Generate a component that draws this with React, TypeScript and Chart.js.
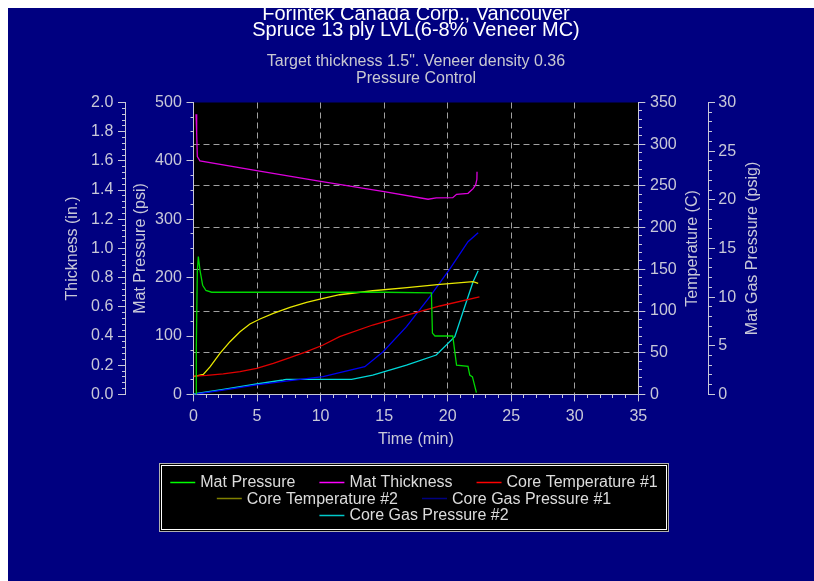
import React, { useEffect, useRef } from 'react';
import { Chart, registerables } from 'chart.js';

Chart.register(...registerables);

const FONT = "'Liberation Sans', Arial, Helvetica, sans-serif";

// ---------- text ----------
const titleLines = ['Forintek Canada Corp., Vancouver', 'Spruce 13 ply LVL(6-8% Veneer MC)'];
const subtitleLines = ['Target thickness 1.5". Veneer density 0.36', 'Pressure Control'];
const xTitle = 'Time (min)';
const thicknessTitle = 'Thickness (in.)';
const pressureTitle = 'Mat Pressure (psi)';
const temperatureTitle = 'Temperature (C)';
const gasTitle = 'Mat Gas Pressure (psig)';

// ---------- series labels / colours ----------
const seriesLabels = [
  'Mat Pressure',
  'Mat Thickness',
  'Core Temperature #1',
  'Core Temperature #2',
  'Core Gas Pressure #1',
  'Core Gas Pressure #2',
];
const lineColors = ['#00d800', '#dd00dd', '#e00000', '#e8e800', '#0000f0', '#00d8d8'];
const legendColors = ['#00ff00', '#ff00ff', '#ff0000', '#808000', '#000080', '#00c8c8'];

// ---------- axis ranges ----------
const timeRange = [0, 35];
const timeSteps = [5, 1]; // major, minor
const thicknessRange = [0, 2];
const thicknessSteps = [0.2, 0.04];
const pressureRange = [0, 500];
const pressureSteps = [100, 25];
const temperatureRange = [0, 350];
const temperatureSteps = [50, 10];
const gasRange = [0, 30];
const gasSteps = [5, 1];

// ---------- data (time in min) ----------
const matPressureTime = [0.2, 0.22, 0.3, 0.38, 0.51, 0.72, 0.98, 1.43, 5, 10, 15, 18.72, 18.8, 19.0, 20.4, 20.7, 21.6, 21.74, 21.95, 22.26];
const matPressureVal = [0, 80, 210, 236, 213, 187, 178, 175, 175, 175, 175, 174, 105, 100, 100, 50, 48, 33, 30, 3];

const matThicknessTime = [0.2, 0.25, 0.3, 0.51, 4.97, 10.0, 15.0, 18.46, 19.1, 20.4, 20.7, 21.6, 22.0, 22.2, 22.3, 22.31];
const matThicknessVal = [1.92, 1.79, 1.63, 1.6, 1.533, 1.46, 1.389, 1.337, 1.346, 1.348, 1.371, 1.378, 1.41, 1.435, 1.474, 1.526];

const coreTemp1Time = [0, 1.04, 2.34, 3.66, 4.97, 6.28, 7.59, 8.9, 10.2, 11.5, 14.1, 16.8, 19.4, 22.5];
const coreTemp1Val = [22, 22.9, 24.5, 27.2, 31.3, 37.3, 44, 51.2, 59.2, 69.2, 83.2, 95.2, 106, 117];

const coreTemp2Time = [0, 0.77, 1.3, 2.08, 2.87, 3.66, 4.44, 5.23, 6.28, 7.59, 8.9, 10.2, 11.5, 14.1, 16.8, 19.4, 22.0, 22.4];
const coreTemp2Val = [21.3, 24, 33, 49.3, 63.2, 75.2, 84.4, 90.4, 97.2, 104.4, 110.4, 115.2, 119.5, 124.3, 128, 132, 135.1, 133.2];

const coreGas1Time = [0, 2.34, 4.97, 7.59, 10.2, 11.5, 13.48, 14.92, 16.76, 18.6, 20.2, 21.6, 22.4];
const coreGas1Val = [0, 0.45, 0.97, 1.41, 1.82, 2.23, 2.85, 4.39, 6.96, 10.04, 12.96, 15.7, 16.62];

const coreGas2Time = [0, 2.34, 4.97, 7.06, 7.3, 11.5, 12.44, 14.1, 16.76, 19.1, 20.56, 21.34, 22.0, 22.4];
const coreGas2Val = [0.04, 0.52, 1.07, 1.48, 1.55, 1.55, 1.55, 1.99, 3.02, 4.05, 5.93, 9.01, 11.58, 12.71];

const seriesTimes = [matPressureTime, matThicknessTime, coreTemp1Time, coreTemp2Time, coreGas1Time, coreGas2Time];
const seriesValues = [matPressureVal, matThicknessVal, coreTemp1Val, coreTemp2Val, coreGas1Val, coreGas2Val];
const seriesAxes = ['yP', 'yTh', 'yT', 'yT', 'yG', 'yG'];

// legend rows (indices into seriesLabels)
const legendRows = [[0, 1, 2], [3, 4], [5]];

// ---------- styling ----------
const AX = '#c8c8d8';
const GRID = '#a0a0a0';
const NAVY = '#000080';
const TICK_SIZE = 16;

function isMult(v: number, s: number) {
  return Number.isFinite(v) && Math.abs(v / s - Math.round(v / s)) < 1e-6;
}
function tickVal(c: any): number {
  return c && c.tick ? c.tick.value : NaN;
}

function gridOpts(major: number, outerFirst: boolean, onChart: boolean, range: number[]) {
  return {
    display: true,
    drawOnChartArea: onChart,
    color: (c: any) => {
      const v = tickVal(c);
      return onChart && isMult(v, major) && v > range[0] && v < range[1] ? GRID : 'transparent';
    },
    lineWidth: 1,
    tickColor: AX,
    tickWidth: 1,
    tickLength: 7,
    tickBorderDash: (c: any) => (isMult(tickVal(c), major) ? [] : outerFirst ? [0, 4, 3, 100] : [3, 100]),
  };
}

function tickOpts(steps: number[], fmt: (v: number) => string, padding: number) {
  return {
    stepSize: steps[1],
    autoSkip: false,
    maxTicksLimit: 1000,
    maxRotation: 0,
    minRotation: 0,
    color: AX,
    padding,
    font: { family: FONT, size: TICK_SIZE },
    callback: (v: any) => (isMult(Number(v), steps[0]) ? fmt(Number(v)) : ''),
  };
}

const bgPlugin = {
  id: 'bgPlugin',
  beforeDraw(chart: any) {
    const { ctx, chartArea } = chart;
    ctx.save();
    ctx.fillStyle = NAVY;
    ctx.fillRect(0, 0, chart.width, chart.height);
    ctx.fillStyle = '#000000';
    ctx.fillRect(chartArea.left, chartArea.top, chartArea.right - chartArea.left, chartArea.bottom - chartArea.top);
    ctx.restore();
  },
};

const extrasPlugin = {
  id: 'extrasPlugin',
  afterDraw(chart: any) {
    const { ctx, chartArea, scales } = chart;
    const midY = (chartArea.top + chartArea.bottom) / 2;
    // right-hand axis titles (reading upwards)
    ctx.save();
    ctx.fillStyle = AX;
    ctx.font = `16px ${FONT}`;
    ctx.textAlign = 'center';
    ctx.textBaseline = 'middle';
    const drawV = (text: string, x: number) => {
      ctx.save();
      ctx.translate(x, midY);
      ctx.rotate(-Math.PI / 2);
      ctx.fillText(text, 0, 0);
      ctx.restore();
    };
    drawV(temperatureTitle, scales.yT.left + 54.5);
    drawV(gasTitle, scales.yG.left + 44.5);
    ctx.restore();

    // legend box
    const L = 151, T = 455, R = 661, B = 524;
    ctx.save();
    ctx.fillStyle = '#000000';
    ctx.fillRect(L, T, R - L, B - T);
    ctx.lineWidth = 1;
    ctx.strokeStyle = '#b0b0b0';
    ctx.strokeRect(L + 0.5, T + 0.5, R - L - 1, B - T - 1);
    ctx.strokeStyle = '#ffffff';
    ctx.strokeRect(L + 2.5, T + 2.5, R - L - 5, B - T - 5);

    ctx.font = `16px ${FONT}`;
    ctx.textBaseline = 'middle';
    ctx.textAlign = 'left';
    const lineLen = 25, gapLT = 5, gapItem = 24;
    const cx = (L + R) / 2;
    const rowY = [473.7, 490.2, 507];
    legendRows.forEach((row, r) => {
      const widths = row.map((i) => lineLen + gapLT + ctx.measureText(seriesLabels[i]).width);
      const total = widths.reduce((a, b) => a + b, 0) + gapItem * (row.length - 1);
      let x = cx - total / 2;
      row.forEach((i, k) => {
        const y = rowY[r];
        ctx.strokeStyle = legendColors[i];
        ctx.lineWidth = 1.5;
        ctx.beginPath();
        ctx.moveTo(x, Math.round(y) + 0.5);
        ctx.lineTo(x + lineLen, Math.round(y) + 0.5);
        ctx.stroke();
        ctx.fillStyle = '#dcdcdc';
        ctx.fillText(seriesLabels[i], x + lineLen + gapLT, y + 1);
        x += widths[k] + gapItem;
      });
    });
    ctx.restore();
  },
};

export default function App() {
  const ref = useRef<HTMLCanvasElement>(null);

  useEffect(() => {
    document.documentElement.style.overflow = 'hidden';
    Chart.defaults.font.family = FONT;

    const datasets = seriesLabels.map((label, i) => ({
      label,
      data: seriesTimes[i].map((t, j) => ({ x: t, y: seriesValues[i][j] })),
      yAxisID: seriesAxes[i],
      xAxisID: 'x',
      borderColor: lineColors[i],
      backgroundColor: lineColors[i],
      borderWidth: 1.3,
      pointRadius: 0,
      tension: 0,
      fill: false,
    }));

    const chart = new Chart(ref.current as HTMLCanvasElement, {
      type: 'line',
      data: { datasets },
      plugins: [bgPlugin, extrasPlugin],
      options: {
        responsive: false,
        animation: false,
        devicePixelRatio: 1,
        layout: { padding: { left: 10, right: 0, top: 0, bottom: 126.6 } },
        plugins: {
          legend: { display: false },
          tooltip: { enabled: false },
          title: {
            display: true,
            text: titleLines,
            color: '#ffffff',
            font: { family: FONT, size: 20, weight: 'normal', lineHeight: 0.785 },
            padding: { top: -1.55, bottom: 0 },
          },
          subtitle: {
            display: true,
            text: subtitleLines,
            color: '#c8c8d0',
            font: { family: FONT, size: 16, weight: 'normal', lineHeight: 1.0375 },
            padding: { top: 15.55, bottom: 15.9 },
          },
        },
        scales: {
          x: {
            type: 'linear',
            position: 'bottom',
            min: timeRange[0],
            max: timeRange[1],
            ticks: tickOpts(timeSteps, (v) => String(v), 5.2),
            grid: gridOpts(timeSteps[0], false, true, timeRange),
            border: { display: true, color: AX, width: 1, dash: [6, 4] },
            title: { display: true, text: xTitle, color: AX, font: { family: FONT, size: 16 }, padding: { top: 0, bottom: 5.1 } },
            afterFit: (s: any) => { s.height = 60; },
          },
          yTh: {
            type: 'linear',
            position: 'left',
            weight: 1,
            min: thicknessRange[0],
            max: thicknessRange[1],
            ticks: tickOpts(thicknessSteps, (v) => v.toFixed(1), 4.7),
            grid: gridOpts(thicknessSteps[0], true, false, thicknessRange),
            border: { display: true, color: AX, width: 1 },
            title: { display: true, text: thicknessTitle, color: AX, font: { family: FONT, size: 16 }, padding: { top: 45, bottom: 0 } },
            afterFit: (s: any) => { s.width = 107; },
          },
          yP: {
            type: 'linear',
            position: 'left',
            weight: 0,
            min: pressureRange[0],
            max: pressureRange[1],
            ticks: tickOpts(pressureSteps, (v) => String(Math.round(v)), 4.7),
            grid: gridOpts(pressureSteps[0], true, false, pressureRange),
            border: { display: true, color: AX, width: 1 },
            title: { display: true, text: pressureTitle, color: AX, font: { family: FONT, size: 16 }, padding: { top: 6, bottom: 0 } },
            afterFit: (s: any) => { s.width = 68.5; },
          },
          yT: {
            type: 'linear',
            position: 'right',
            weight: 0,
            min: temperatureRange[0],
            max: temperatureRange[1],
            ticks: tickOpts(temperatureSteps, (v) => String(Math.round(v)), 4.7),
            grid: gridOpts(temperatureSteps[0], false, true, temperatureRange),
            border: { display: true, color: AX, width: 1, dash: [6, 4] },
            title: { display: false },
            afterFit: (s: any) => { s.width = 69.7; },
          },
          yG: {
            type: 'linear',
            position: 'right',
            weight: 1,
            min: gasRange[0],
            max: gasRange[1],
            ticks: tickOpts(gasSteps, (v) => String(Math.round(v)), 3.3),
            grid: gridOpts(gasSteps[0], false, false, gasRange),
            border: { display: true, color: AX, width: 1 },
            title: { display: false },
            afterFit: (s: any) => { s.width = 106; },
          },
        },
      } as any,
    });
    return () => chart.destroy();
  }, []);

  return (
    <div style={{ position: 'absolute', left: 8, top: 8, width: 806, height: 573, background: NAVY }}>
      <canvas ref={ref} width={806} height={573} style={{ display: 'block', width: 806, height: 573 }} />
    </div>
  );
}
